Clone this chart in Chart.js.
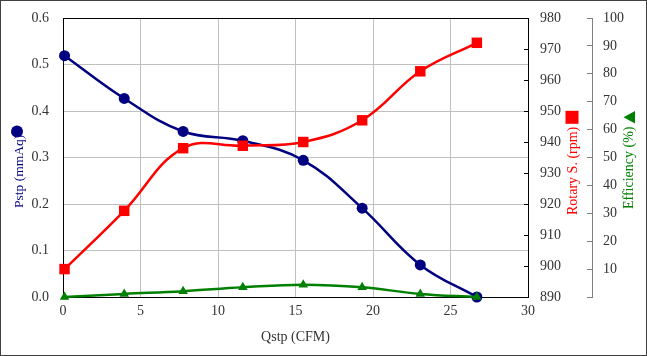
<!DOCTYPE html>
<html>
<head>
<meta charset="utf-8">
<script src="https://cdn.jsdelivr.net/npm/chart.js@4.4.1/dist/chart.umd.min.js"></script>
<style>
  html, body { margin: 0; padding: 0; background: #fff; }
  #frame { position: absolute; left: 0; top: 0; width: 647px; height: 356px; box-sizing: border-box; border: 1px solid #404040; background: #fff; }
  #c { display: block; }
</style>
</head>
<body>
<div id="frame"><canvas id="c" width="645" height="354"></canvas></div>
<script>
// ---- data ----
const qstp = [0.1, 3.95, 7.75, 11.6, 15.5, 19.3, 23.05, 26.7];
const pstp = [0.519, 0.427, 0.356, 0.336, 0.294, 0.191, 0.069, 0.0];
const rotarySpeed = [899, 917.8, 938, 938.8, 940, 947, 962.8, 972];
const efficiency = [0, 1.1, 2.1, 3.5, 4.4, 3.5, 1.1, 0];

const xTitle = 'Qstp (CFM)';
const pstpTitle = 'Pstp (mmAq)';
const rpmTitle = 'Rotary S. (rpm)';
const effTitle = 'Efficiency (%)';

const NAVY = '#000080', RED = '#ff0000', GREEN = '#008000';
const GRID = '#c0c0c0', TICKTXT = '#333333';
const FONT = '"Liberation Serif", "Times New Roman", serif';

function pts(xs, ys) { return xs.map((x, i) => ({ x: x, y: ys[i] })); }
function fixV(w) { return (s) => { s.width = w; s.paddingTop = 8; s.paddingBottom = 8; }; }

const titlePlugin = {
  id: 'axisTitles',
  afterDraw(chart) {
    const ctx = chart.ctx;
    ctx.save();
    ctx.textAlign = 'left';
    ctx.textBaseline = 'middle';
    function vtext(text, x, yStart, color) {
      ctx.save();
      ctx.translate(x, yStart);
      ctx.rotate(-Math.PI / 2);
      ctx.fillStyle = color;
      ctx.fillText(text, 0, 0);
      ctx.restore();
    }
    // left title + circle marker
    ctx.font = '13.5px ' + FONT;
    vtext(pstpTitle, 18, 207, NAVY);
    ctx.fillStyle = NAVY;
    ctx.beginPath(); ctx.arc(16, 130.5, 6, 0, Math.PI * 2); ctx.fill();
    // rpm title + square marker
    ctx.font = '14px ' + FONT;
    vtext(rpmTitle, 572, 214, RED);
    ctx.fillStyle = RED;
    ctx.fillRect(571 - 6.5, 116.3 - 6.5, 13, 13);
    // efficiency title + triangle marker (pointing left)
    vtext(effTitle, 628, 208, GREEN);
    ctx.fillStyle = GREEN;
    ctx.beginPath();
    ctx.moveTo(622.5, 116.3);
    ctx.lineTo(634, 110);
    ctx.lineTo(634, 122.6);
    ctx.closePath(); ctx.fill();
    ctx.restore();
  }
};

new Chart(document.getElementById('c'), {
  type: 'line',
  data: {
    datasets: [
      {
        label: 'Efficiency', data: pts(qstp, efficiency), yAxisID: 'y3',
        borderColor: GREEN, backgroundColor: GREEN, borderWidth: 2.5,
        pointStyle: 'triangle', pointRadius: 5.5, pointBorderWidth: 0,
        tension: 0.4, clip: false, order: 0
      },
      {
        label: 'Rotary S.', data: pts(qstp, rotarySpeed), yAxisID: 'y2',
        borderColor: RED, backgroundColor: RED, borderWidth: 2.5,
        pointStyle: 'rect', pointRadius: 7.4, pointBorderWidth: 0,
        tension: 0.4, clip: false, order: 1
      },
      {
        label: 'Pstp', data: pts(qstp, pstp), yAxisID: 'y',
        borderColor: NAVY, backgroundColor: NAVY, borderWidth: 2.5,
        pointStyle: 'circle', pointRadius: 5.5, pointBorderWidth: 0,
        tension: 0.4, clip: false, order: 2
      }
    ]
  },
  options: {
    responsive: false,
    animation: false,
    devicePixelRatio: 1,
    layout: { padding: { top: 17, left: 0, right: 0, bottom: 0 } },
    plugins: { legend: { display: false }, tooltip: { enabled: false } },
    scales: {
      x: {
        type: 'linear', position: 'bottom', min: 0, max: 30,
        ticks: { stepSize: 5, color: TICKTXT, font: { family: FONT, size: 14 }, padding: 6, maxRotation: 0 },
        grid: { color: (c) => (c.tick && c.tick.value === 30) ? '#000' : GRID, drawTicks: false, lineWidth: 1 },
        border: { display: true, color: '#000', width: 1 },
        title: { display: true, text: xTitle, color: TICKTXT, font: { family: FONT, size: 14 }, padding: { top: 0, bottom: 9 } },
        afterFit: (s) => { s.height = 58; }
      },
      y: {
        type: 'linear', position: 'left', min: 0, max: 0.6,
        ticks: { stepSize: 0.1, color: TICKTXT, font: { family: FONT, size: 14 }, padding: 14,
                 callback: (v) => Number(v).toFixed(1) },
        grid: { color: (c) => (c.tick && Math.abs(c.tick.value - 0.6) < 1e-9) ? '#000' : GRID, drawTicks: false, lineWidth: 1 },
        border: { display: true, color: '#000', width: 1 },
        afterFit: fixV(62)
      },
      y2: {
        type: 'linear', position: 'right', min: 890, max: 980,
        ticks: { stepSize: 10, color: TICKTXT, font: { family: FONT, size: 14 }, padding: 16 },
        grid: { drawOnChartArea: false, drawTicks: true, tickLength: -4, color: '#000', lineWidth: 1 },
        border: { display: true, color: '#000', width: 1 },
        afterFit: fixV(64)
      },
      y3: {
        type: 'linear', position: 'right', min: 0, max: 100,
        ticks: { stepSize: 10, color: TICKTXT, font: { family: FONT, size: 14 }, padding: 16,
                 callback: (v) => (v === 0 ? '' : String(v)) },
        grid: { drawOnChartArea: false, drawTicks: true, tickLength: -5, color: '#808080', lineWidth: 1 },
        border: { display: true, color: '#808080', width: 1 },
        afterFit: fixV(54)
      }
    }
  },
  plugins: [titlePlugin]
});
</script>
</body>
</html>
